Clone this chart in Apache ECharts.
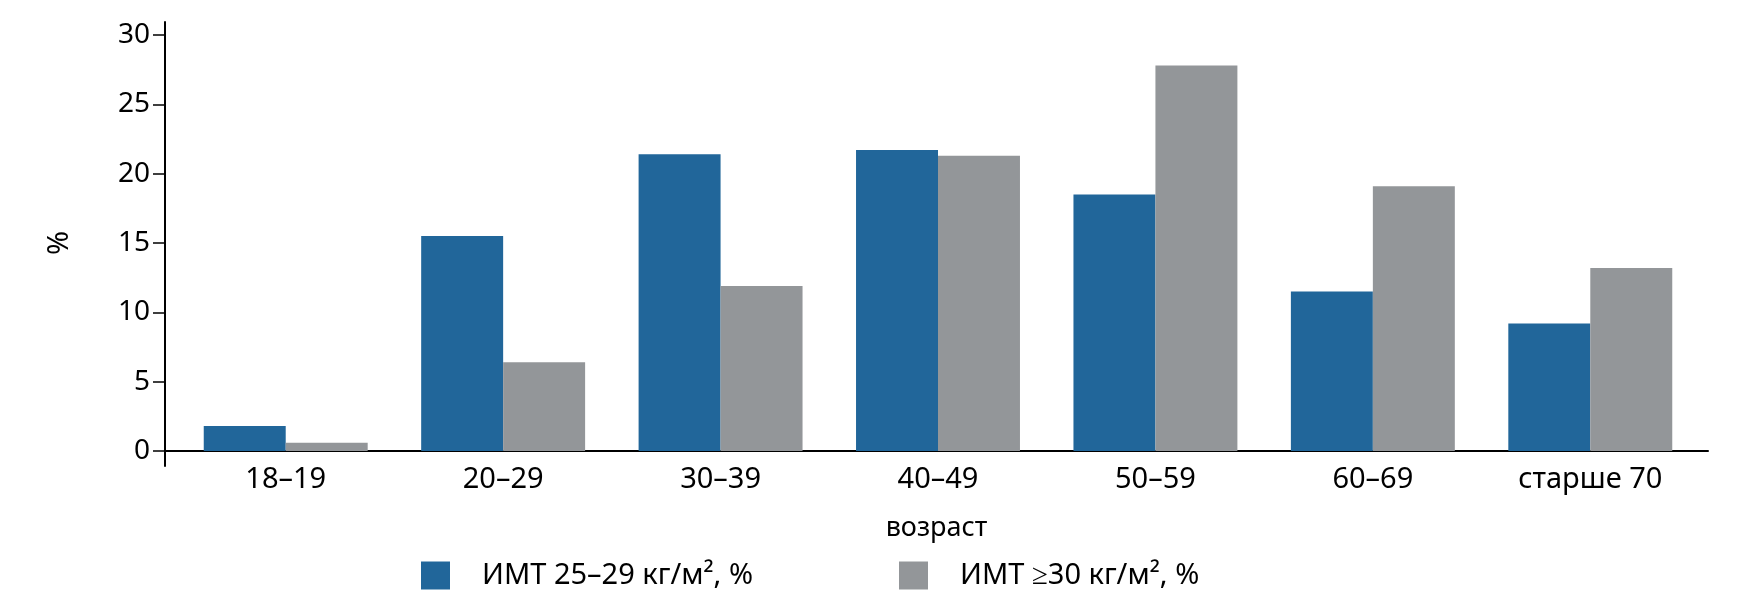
<!DOCTYPE html>
<html><head><meta charset="utf-8">
<script src="https://cdn.jsdelivr.net/npm/echarts@6/dist/echarts.min.js"></script>
<style>html,body{margin:0;padding:0;background:#fff}#c{width:1762px;height:606px}</style>
</head><body><div id="c"></div>
<script>
const categories = ['18–19', '20–29', '30–39', '40–49', '50–59', '60–69', 'старше 70'];
const seriesNames = ['ИМТ 25–29 кг/м², %', 'ИМТ ≥30 кг/м², %'];
const overweight = [1.8, 15.5, 21.4, 21.7, 18.5, 11.5, 9.2];
const obese = [0.6, 6.4, 11.9, 21.3, 27.8, 19.1, 13.2];
const yMin = 0, yMax = 30, yInterval = 5;
const xAxisName = 'возраст';
const yAxisName = '%';

const colors = ['#21669a', '#939699'];
const FONT = 'Noto Sans';
const AX = { color: '#000', width: 2 };

const chart = echarts.init(document.getElementById('c'), null, { renderer: 'canvas' });
chart.setOption({
  animation: false,
  backgroundColor: '#fff',
  textStyle: { fontFamily: FONT, color: '#000' },
  grid: [
    { left: 165, right: 54, top: 35, bottom: 155 },
    { left: 177, right: 63, top: 35, bottom: 155 },
    { left: 165, right: 54, top: 22, bottom: 140 }
  ],
  xAxis: [
    { gridIndex: 0, type: 'category', data: categories,
      axisLine: { show: true, lineStyle: AX }, axisTick: { show: false }, axisLabel: { show: false },
      name: xAxisName, nameLocation: 'middle', nameGap: 64,
      nameTextStyle: { fontFamily: FONT, fontSize: 27, color: '#000' } },
    { gridIndex: 1, type: 'category', data: categories,
      axisLine: { show: false }, axisTick: { show: false },
      axisLabel: { fontFamily: FONT, fontSize: 29, color: '#000', margin: 14 } },
    { gridIndex: 2, type: 'category', data: categories, show: false }
  ],
  yAxis: [
    { gridIndex: 0, type: 'value', min: yMin, max: yMax, interval: yInterval,
      axisLine: { show: false },
      axisTick: { show: true, length: 12, lineStyle: { color: '#000', width: 1.5 } },
      splitLine: { show: false },
      axisLabel: { fontFamily: FONT, fontSize: 28, color: '#000', margin: 15 },
      name: yAxisName, nameLocation: 'middle', nameRotate: 90, nameGap: 91,
      nameTextStyle: { fontFamily: FONT, fontSize: 29, color: '#000' } },
    { gridIndex: 1, type: 'value', min: yMin, max: yMax, show: false },
    { gridIndex: 2, type: 'value', min: 0, max: 1,
      axisLine: { show: true, lineStyle: AX }, axisTick: { show: false },
      axisLabel: { show: false }, splitLine: { show: false } }
  ],
  legend: [
    { data: [seriesNames[0]], left: 421, top: 561, padding: 0, itemWidth: 29, itemHeight: 28, icon: 'rect',
      selectedMode: false, textStyle: { fontFamily: FONT, fontSize: 29, color: '#000', padding: [0, 0, 0, 27] } },
    { data: [seriesNames[1]], left: 899, top: 561, padding: 0, itemWidth: 29, itemHeight: 28, icon: 'rect',
      selectedMode: false, textStyle: { fontFamily: FONT, fontSize: 29, color: '#000', padding: [0, 0, 0, 27] } }
  ],
  series: [
    { name: seriesNames[0], type: 'bar', xAxisIndex: 1, yAxisIndex: 1, data: overweight,
      itemStyle: { color: colors[0] }, barGap: '0%', barCategoryGap: '24.6%' },
    { name: seriesNames[1], type: 'bar', xAxisIndex: 1, yAxisIndex: 1, data: obese,
      itemStyle: { color: colors[1] }, barGap: '0%', barCategoryGap: '24.6%' }
  ]
});
</script></body></html>
